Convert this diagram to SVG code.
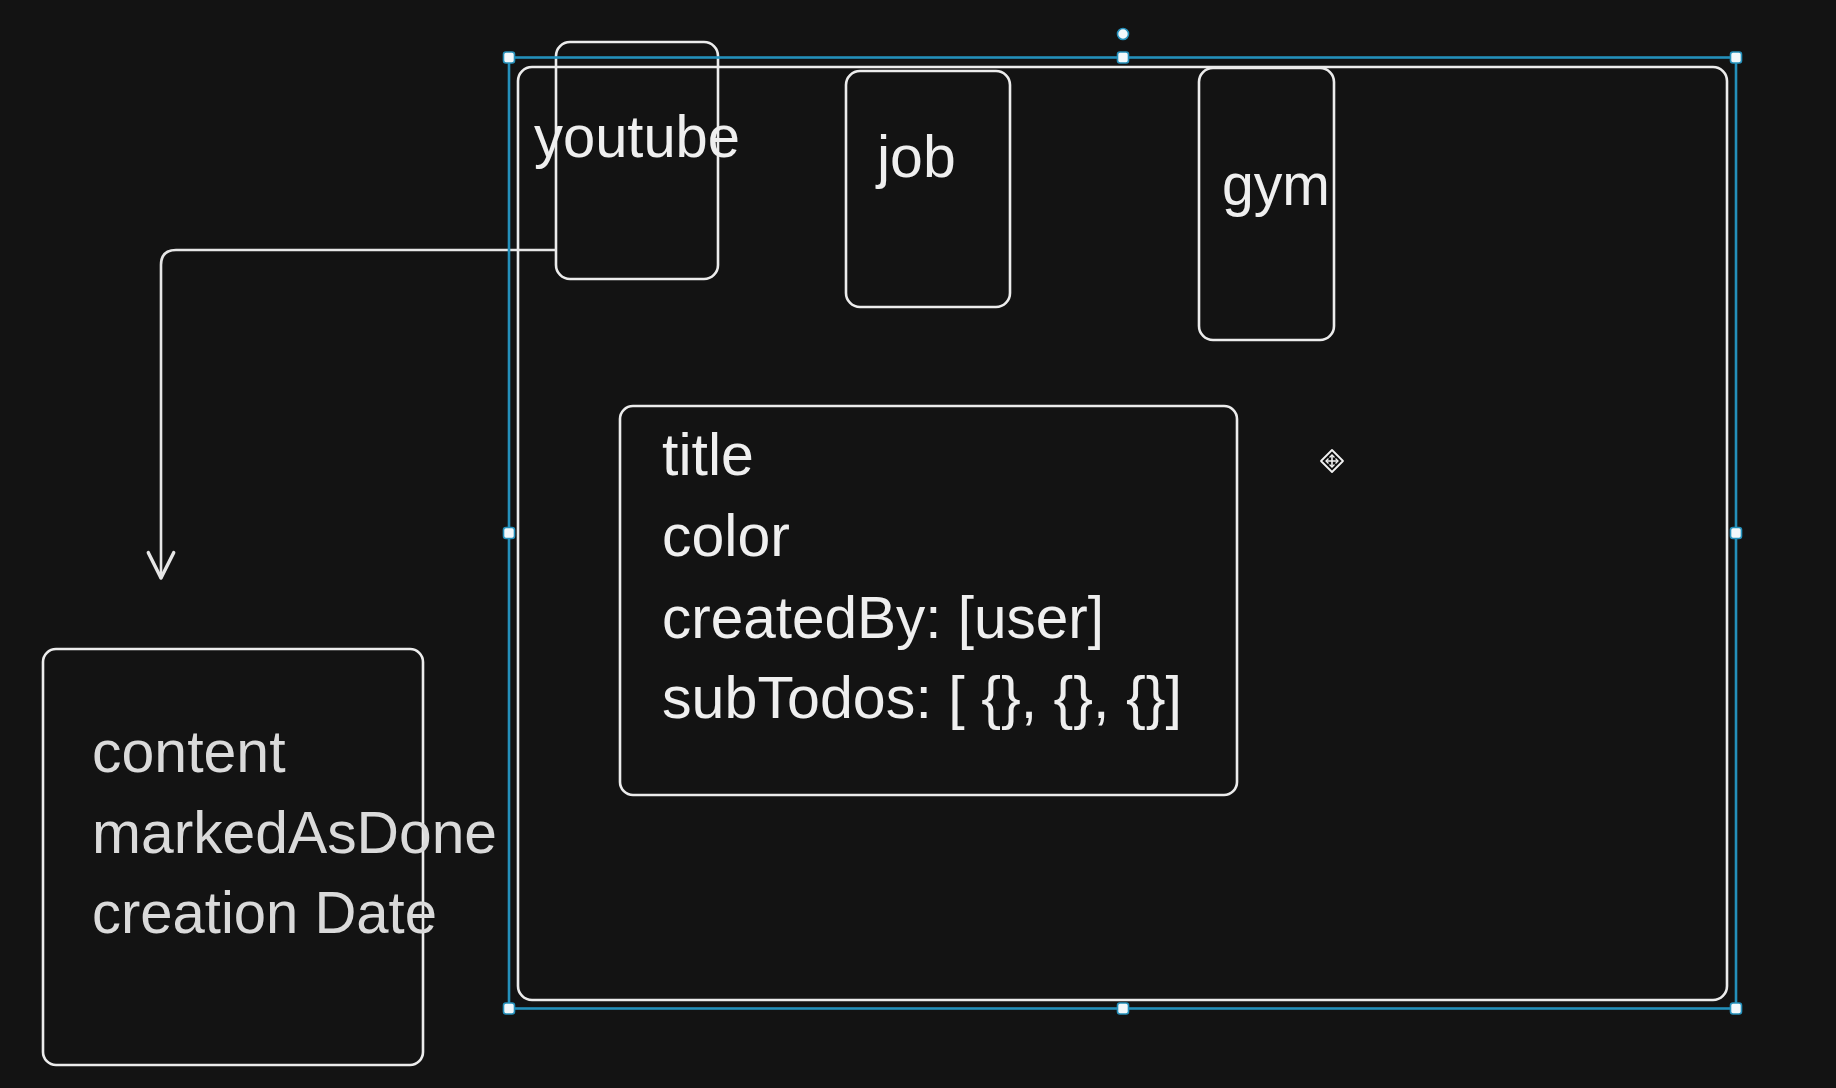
<svg xmlns="http://www.w3.org/2000/svg" width="1836" height="1088" viewBox="0 0 1836 1088">
  <defs>
    <style>
      .box { fill: none; stroke: #ececec; stroke-width: 2.6; }
      .txt { font-family: "Liberation Sans", Arial, sans-serif; font-size: 59px; fill: #efefef; }
      .dim { fill: #dadada; }
      .conn { fill: none; stroke: #e6e6e6; stroke-width: 2.6; stroke-linecap: round; stroke-linejoin: round; }
      .sel { fill: none; stroke: #2490bb; stroke-width: 2.6; }
      .handle { fill: #f2f8fb; stroke: #2490bb; stroke-width: 1.6; }
    </style>
    <marker id="arrow" markerUnits="userSpaceOnUse" markerWidth="40" markerHeight="40" viewBox="-25 -15 30 30" refX="0" refY="0" orient="auto">
      <path d="M -19 -9.5 L 0 0 L -19 9.5" fill="none" stroke="#e6e6e6" stroke-width="2.6" stroke-linecap="round" stroke-linejoin="round"/>
    </marker>
  </defs>

  <rect x="0" y="0" width="1836" height="1088" fill="#131313"/>

  <g id="container">
    <rect class="box" x="518" y="67" width="1209" height="933" rx="14"/>
  </g>

  <g id="node-youtube">
    <rect class="box" x="556" y="42" width="162" height="237" rx="14"/>
    <text class="txt" x="534" y="157" textLength="206" lengthAdjust="spacingAndGlyphs">youtube</text>
  </g>

  <g id="node-job">
    <rect class="box" x="846" y="71" width="164" height="236" rx="14"/>
    <text class="txt" x="877" y="177">job</text>
  </g>

  <g id="node-gym">
    <rect class="box" x="1199" y="68" width="135" height="272" rx="14"/>
    <text class="txt" x="1222" y="205" textLength="108" lengthAdjust="spacingAndGlyphs">gym</text>
  </g>

  <g id="node-todo">
    <rect class="box" x="620" y="406" width="617" height="389" rx="13"/>
    <text class="txt" x="662" y="475">title</text>
    <text class="txt" x="662" y="556">color</text>
    <text class="txt" x="662" y="638" textLength="442" lengthAdjust="spacingAndGlyphs">createdBy: [user]</text>
    <text class="txt" x="662" y="718" textLength="520" lengthAdjust="spacingAndGlyphs">subTodos: [ {}, {}, {}]</text>
  </g>

  <g id="node-subtodo">
    <rect class="box" x="43" y="649" width="380" height="416" rx="13"/>
    <text class="txt dim" x="92" y="772">content</text>
    <text class="txt dim" x="92" y="853" textLength="405" lengthAdjust="spacingAndGlyphs">markedAsDone</text>
    <text class="txt dim" x="92" y="933" textLength="345" lengthAdjust="spacingAndGlyphs">creation Date</text>
  </g>

  <g id="connectors">
    <path class="conn" d="M 555 250 H 176 Q 161 250 161 265 V 578" marker-end="url(#arrow)"/>
  </g>

  <g id="selection">
    <rect class="sel" x="509" y="57.5" width="1227" height="951"/>
    <circle class="handle" cx="1123" cy="34" r="5.5"/>
    <rect class="handle" x="503.5" y="52" width="11" height="11" rx="2.5"/>
    <rect class="handle" x="1117.5" y="52" width="11" height="11" rx="2.5"/>
    <rect class="handle" x="1730.5" y="52" width="11" height="11" rx="2.5"/>
    <rect class="handle" x="503.5" y="527.5" width="11" height="11" rx="2.5"/>
    <rect class="handle" x="1730.5" y="527.5" width="11" height="11" rx="2.5"/>
    <rect class="handle" x="503.5" y="1003" width="11" height="11" rx="2.5"/>
    <rect class="handle" x="1117.5" y="1003" width="11" height="11" rx="2.5"/>
    <rect class="handle" x="1730.5" y="1003" width="11" height="11" rx="2.5"/>
  </g>

  <g id="cursor" transform="translate(1332 461)">
    <path d="M 0 -11 L 11 0 L 0 11 L -11 0 Z" fill="#111" stroke="#f2f2f2" stroke-width="1.8" stroke-linejoin="round"/>
    <path d="M 0 -6 V 6 M -6 0 H 6" stroke="#f2f2f2" stroke-width="1.6"/>
    <path d="M -2.5 -3.5 L 0 -6 L 2.5 -3.5 M -2.5 3.5 L 0 6 L 2.5 3.5 M -3.5 -2.5 L -6 0 L -3.5 2.5 M 3.5 -2.5 L 6 0 L 3.5 2.5" fill="none" stroke="#f2f2f2" stroke-width="1.3"/>
  </g>
</svg>
